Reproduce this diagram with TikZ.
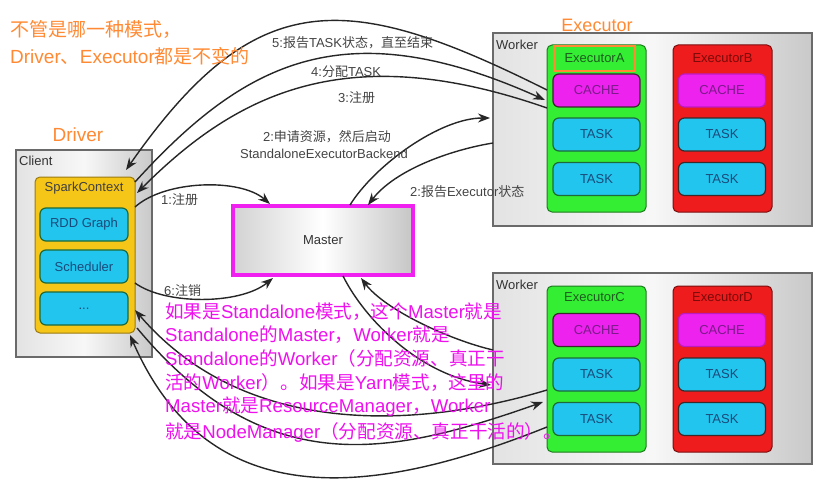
\documentclass[tikz,border=0pt]{standalone}
\usepackage{fontspec}
\setmainfont{Liberation Sans}
\newfontfamily\cjk{Noto Sans CJK SC}
\newcommand\zh[1]{{\cjk #1}}
\usetikzlibrary{arrows.meta}
\definecolor{exgreen}{HTML}{33EE33}
\definecolor{exgreenB}{HTML}{1E7A1E}
\definecolor{exgreenT}{HTML}{1F5A1F}
\definecolor{exred}{HTML}{EE1C1C}
\definecolor{exredB}{HTML}{7A0E0E}
\definecolor{exredT}{HTML}{7A0A0A}
\definecolor{cachemag}{HTML}{EE22EE}
\definecolor{cacheT}{HTML}{7A1A8A}
\definecolor{taskblue}{HTML}{22C5EE}
\definecolor{taskT}{HTML}{1A4A7A}
\definecolor{taskBg}{HTML}{1E6A3A}
\definecolor{taskBd}{HTML}{3A2A2A}
\definecolor{scyellow}{HTML}{F5C518}
\definecolor{scyellowB}{HTML}{9A7A10}
\definecolor{wkborder}{HTML}{6A6A6A}
\definecolor{masterpink}{HTML}{F020F0}
\definecolor{orangeT}{HTML}{FF8A33}
\definecolor{pinkT}{HTML}{EE11EE}
\definecolor{labgray}{HTML}{444444}
\definecolor{arrowgray}{HTML}{262626}
\begin{document}
\begin{tikzpicture}[x=1pt,y=-1pt,
  fs/.style={font=\fontsize{#1}{#1}\selectfont},
  workerbox/.style={draw=wkborder, line width=1.2pt, left color=gray!22, right color=gray!42, middle color=gray!6, inner sep=0},
  execg/.style={draw=exgreenB, fill=exgreen, rounded corners=5pt, line width=1pt, inner sep=0, minimum width=99, minimum height=167},
  execr/.style={draw=exredB, fill=exred, rounded corners=5pt, line width=1pt, inner sep=0, minimum width=99, minimum height=167},
  cachebox/.style={draw=#1, fill=cachemag, rounded corners=6pt, line width=1.2pt, text=cacheT, fs=13, minimum width=87, minimum height=33, inner sep=0},
  taskbox/.style={draw=#1, fill=taskblue, rounded corners=6pt, line width=1.2pt, text=taskT, fs=13, minimum width=87, minimum height=33, inner sep=0},
  innerbox/.style={draw=taskBg, fill=taskblue, rounded corners=6pt, line width=1.2pt, text=taskT, fs=13, minimum width=88, minimum height=33, inner sep=0},
  boxlbl/.style={text=black!80, fs=13, anchor=west, inner sep=0},
  alab/.style={text=labgray, fs=13, inner sep=0},
  conn/.style={draw=arrowgray, line width=1.4pt},
  tip/.style={conn, -{Stealth[length=12pt,width=9pt]}},
  pinkline/.style={text=pinkT, fs=18.6, anchor=west, inner sep=0},
  orangeline/.style={text=orangeT, anchor=west, inner sep=0}
]
\useasboundingbox[fill=white] (0,0) rectangle (836,487);

% ---- Workers ----
\node[workerbox, minimum width=319, minimum height=193] (w1) at (652.5,129.5) {};
\node[boxlbl] (w1l) at (496,45) {Worker};
\node[execg] (ea) at (596.5,128.5) {};
\node[draw=orangeT, line width=1.5pt, minimum width=81, minimum height=25, inner sep=0, text=exgreenT, fs=13] (eal) at (594.5,58.5) {ExecutorA};
\node[cachebox=taskBd] (ca) at (596.5,90.5) {CACHE};
\node[taskbox=taskBg] (ta1) at (596.5,134.5) {TASK};
\node[taskbox=taskBg] (ta2) at (596.5,179) {TASK};
\node[execr] (eb) at (722.5,128.5) {};
\node[text=exredT, fs=13, inner sep=0] (ebl) at (722.5,58) {ExecutorB};
\node[cachebox=cachemag!80!black] (cb) at (722,90.5) {CACHE};
\node[taskbox=taskBd] (tb1) at (722,134.5) {TASK};
\node[taskbox=taskBd] (tb2) at (722,179) {TASK};

\node[workerbox, minimum width=319, minimum height=191] (w2) at (652.5,368.5) {};
\node[boxlbl] (w2l) at (496,285) {Worker};
\node[execg, minimum height=166] (ec) at (596.5,369) {};
\node[text=exgreenT, fs=13, inner sep=0] (ecl) at (594.5,297) {ExecutorC};
\node[cachebox=taskBd] (cc) at (596.5,330) {CACHE};
\node[taskbox=taskBg] (tc1) at (596.5,374.5) {TASK};
\node[taskbox=taskBg] (tc2) at (596.5,419) {TASK};
\node[execr, minimum height=166] (ed) at (722.5,369) {};
\node[text=exredT, fs=13, inner sep=0] (edl) at (722.5,297) {ExecutorD};
\node[cachebox=cachemag!80!black] (cd) at (722,330) {CACHE};
\node[taskbox=taskBd] (td1) at (722,374.5) {TASK};
\node[taskbox=taskBd] (td2) at (722,419) {TASK};

% ---- Client / Driver ----
\node[workerbox, minimum width=136, minimum height=207] (cl) at (84,253.5) {};
\node[boxlbl] (cll) at (19,161) {Client};
\node[draw=scyellowB, fill=scyellow, rounded corners=5pt, line width=1pt, minimum width=100, minimum height=156, inner sep=0] (sc) at (85,255) {};
\node[text=black!75, fs=13, inner sep=0] (scl) at (84,188) {SparkContext};
\node[innerbox] (rdd) at (84,224.5) {RDD Graph};
\node[innerbox] (sch) at (84,266.5) {Scheduler};
\node[innerbox] (dots) at (84,308.5) {...};

% ---- Master ----
\node[draw=masterpink, line width=3.5pt, left color=gray!35, right color=gray!45, middle color=white, minimum width=180, minimum height=69, inner sep=0, text=black!80, fs=13] (ms) at (323,240.5) {Master};

% ---- connector end points ----
\coordinate (e5) at (547,90);   \coordinate (d5) at (126,170);
\coordinate (d4) at (135,182);  \coordinate (e4) at (545,100);
\coordinate (e3) at (547,108);  \coordinate (d3) at (137,193);
\coordinate (d1) at (135,207);  \coordinate (m1) at (270,204);
\coordinate (d6) at (135,283);  \coordinate (m6) at (273,278);
\coordinate (m2a) at (350,205); \coordinate (w2a) at (490,118);
\coordinate (w2b) at (493,143); \coordinate (m2b) at (368,205);
\coordinate (w3) at (493,350);  \coordinate (m3) at (361,278);
\coordinate (m4) at (343,276);  \coordinate (w4) at (491,385);
\coordinate (c3) at (547,390);  \coordinate (d7) at (135,310);
\coordinate (d8) at (137,328);  \coordinate (c4) at (543,402);
\coordinate (c5) at (547,427);  \coordinate (d9) at (130,335);

% ---- connectors ----
\draw[tip] (e5) .. controls (347,-10) and (256,-16) .. (d5);
\draw[tip] (d4) .. controls (245,61) and (345,10) .. (e4);
\draw[tip] (e3) .. controls (347,38) and (237,93) .. (d3);
\draw[tip] (d1) .. controls (165,180) and (240,178) .. (m1);
\draw[tip] (d6) .. controls (165,305) and (240,305) .. (m6);
\draw[tip] (m2a) .. controls (375,165) and (440,118) .. (w2a);
\draw[tip] (w2b) .. controls (450,150) and (395,170) .. (m2b);
\draw[tip] (w3) .. controls (450,340) and (385,310) .. (m3);
\draw[tip] (m4) .. controls (365,320) and (420,375) .. (w4);
\draw[tip] (c3) .. controls (417,429) and (245,438) .. (d7);
\draw[tip] (d8) .. controls (267,484) and (393,454.5) .. (c4);
\draw[tip] (c5) .. controls (377,495) and (210,519) .. (d9);

% ---- connector labels ----
\node[alab, anchor=west] (l5) at (272,43) {5:\zh{报告}TASK\zh{状态，直至结束}};
\node[alab, anchor=west] (l4) at (311,72) {4:\zh{分配}TASK};
\node[alab, anchor=west] (l3) at (338,98) {3:\zh{注册}};
\node[alab] (l2a) at (327,137) {2:\zh{申请资源，然后启动}};
\node[alab] (l2b) at (324,154) {StandaloneExecutorBackend};
\node[alab, anchor=west] (l2c) at (410,192) {2:\zh{报告}Executor\zh{状态}};
\node[alab, anchor=west] (l1) at (161,200) {1:\zh{注册}};
\node[alab, anchor=west] (l6) at (164,291) {6:\zh{注销}};

% ---- annotations ----
\node[orangeline, fs=19] (o1) at (10,29) {\zh{不管是哪一种模式，}};
\node[orangeline, fs=19] (o2) at (10,56) {Driver\zh{、}Executor\zh{都是不变的}};
\node[text=orangeT, fs=19, inner sep=0] (odrv) at (78,135) {Driver};
\node[text=orangeT, fs=18, inner sep=0] (oexe) at (597,25) {Executor};

\node[pinkline] (p1) at (165,312) {\zh{如果是}Standalone\zh{模式，这个}Master\zh{就是}};
\node[pinkline] (p2) at (165,335) {Standalone\zh{的}Master\zh{，}Worker\zh{就是}};
\node[pinkline] (p3) at (165,358) {Standalone\zh{的}Worker\zh{（分配资源、真正干}};
\node[pinkline] (p4) at (165,383) {\zh{活的}Worker\zh{）。如果是}Yarn\zh{模式，这里的}};
\node[pinkline] (p5) at (165,407) {Master\zh{就是}ResourceManager\zh{，}Worker};
\node[pinkline] (p6) at (165,432) {\zh{就是}NodeManager\zh{（分配资源、真正干活的）。}};
\end{tikzpicture}
\end{document}
